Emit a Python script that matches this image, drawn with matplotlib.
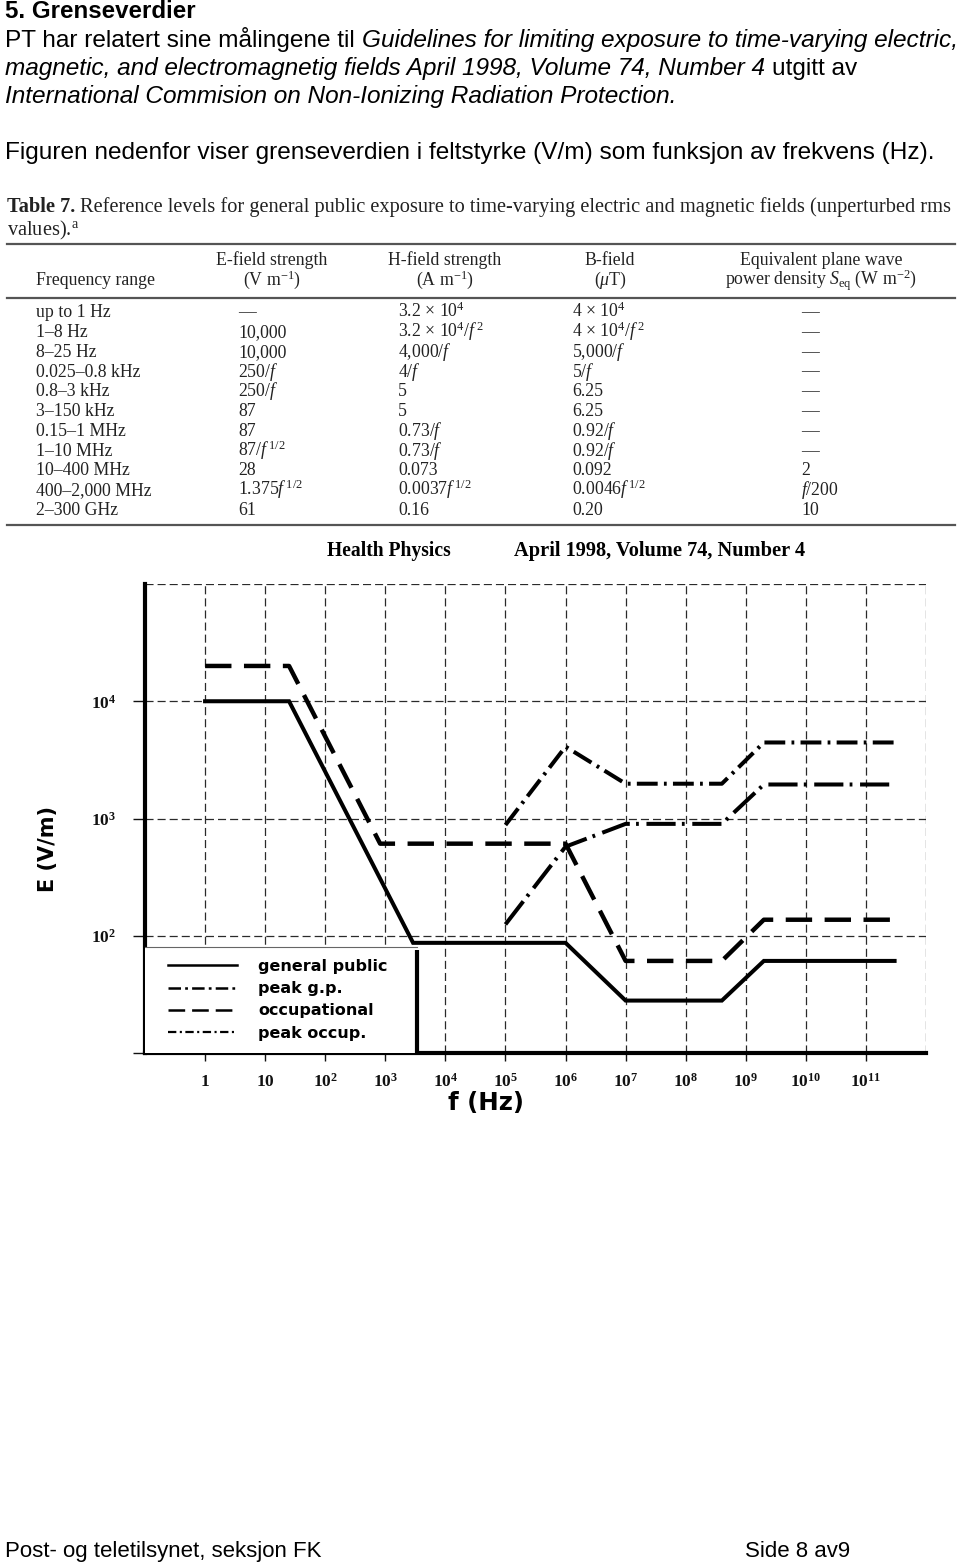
import matplotlib
matplotlib.use("Agg")
import matplotlib.pyplot as plt
from matplotlib.lines import Line2D
from matplotlib.patches import Rectangle
from matplotlib.ticker import NullLocator

plt.rcParams['mathtext.fontset'] = 'custom'
plt.rcParams['mathtext.rm'] = 'Liberation Serif'
plt.rcParams['mathtext.it'] = 'Liberation Serif:italic'
plt.rcParams['mathtext.bf'] = 'Liberation Serif:bold'
plt.rcParams['lines.scale_dashes'] = False

# ---------------- data ----------------
freq_general_public = [1, 25, 2.9e3, 1e6, 1e7, 4e8, 2e9, 3e11]
e_general_public = [1e4, 1e4, 87, 87, 28, 28, 61, 61]

freq_occupational = [1, 25, 820, 1e6, 1e7, 4e8, 2e9, 3e11]
e_occupational = [2e4, 2e4, 610, 610, 61, 61, 137, 137]

freq_peak_gp = [1e5, 1e6, 1e7, 4e8, 2e9, 3e11]
e_peak_gp = [125, 575, 900, 900, 1950, 1950]

freq_peak_occ = [1e5, 1e6, 1e7, 4e8, 2e9, 3e11]
e_peak_occ = [880, 4100, 1980, 1980, 4450, 4450]

legend_labels = ["general public", "peak g.p.", "occupational", "peak occup."]

x_tick_values = [1, 1e1, 1e2, 1e3, 1e4, 1e5, 1e6, 1e7, 1e8, 1e9, 1e10, 1e11]
x_tick_labels = [r"$\mathbf{1}$", r"$\mathbf{10}$", r"$\mathbf{10^{2}}$", r"$\mathbf{10^{3}}$",
                 r"$\mathbf{10^{4}}$", r"$\mathbf{10^{5}}$", r"$\mathbf{10^{6}}$", r"$\mathbf{10^{7}}$",
                 r"$\mathbf{10^{8}}$", r"$\mathbf{10^{9}}$", r"$\mathbf{10^{10}}$", r"$\mathbf{10^{11}}$"]
y_tick_values = [1e1, 1e2, 1e3, 1e4]
y_tick_labels = ["", r"$\mathbf{10^{2}}$", r"$\mathbf{10^{3}}$", r"$\mathbf{10^{4}}$"]

table_freq = ["up to 1 Hz", "1–8 Hz", "8–25 Hz", "0.025–0.8 kHz", "0.8–3 kHz", "3–150 kHz",
              "0.15–1 MHz", "1–10 MHz", "10–400 MHz", "400–2,000 MHz", "2–300 GHz"]
table_e = ["—", "10,000", "10,000", r"250/$f$", r"250/$f$", "87", "87", r"87/$f^{\,1/2}$",
           "28", r"1.375$f^{\,1/2}$", "61"]
table_h = [r"3.2 × 10$^4$", r"3.2 × 10$^4$/$f^{\,2}$", r"4,000/$f$", r"4/$f$", "5", "5",
           r"0.73/$f$", r"0.73/$f$", "0.073", r"0.0037$f^{\,1/2}$", "0.16"]
table_b = [r"4 × 10$^4$", r"4 × 10$^4$/$f^{\,2}$", r"5,000/$f$", r"5/$f$", "6.25", "6.25",
           r"0.92/$f$", r"0.92/$f$", "0.092", r"0.0046$f^{\,1/2}$", "0.20"]
table_s = ["—", "—", "—", "—", "—", "—", "—", "—", "2", r"$f$/200", "10"]

# ---------------- helpers ----------------
W, H = 960, 1567
fig = plt.figure(figsize=(W / 100, H / 100), dpi=100, facecolor='white')
R = fig.canvas.get_renderer()


def fx(x):
    return x / W


def fy(y):
    return 1 - y / H


def measure(s, size, **kw):
    t = fig.text(0, 0, s, fontsize=size, **kw)
    w = t.get_window_extent(R).width
    t.remove()
    return w


def fit(s, target, **kw):
    return 20 * target / measure(s, 20, **kw)


def space_w(size, **kw):
    return measure("a a", size, **kw) - measure("aa", size, **kw)


def seq(x, y, parts, size, va='baseline', **common):
    for s, st in parts:
        kw = dict(common)
        kw.update(st)
        lead = len(s) - len(s.lstrip(' '))
        trail = len(s) - len(s.rstrip(' '))
        x += lead * space_w(size, **kw)
        t = fig.text(fx(x), fy(y), s.strip(' '), fontsize=size, ha='left', va=va, **kw)
        x += t.get_window_extent(R).width
        x += trail * space_w(size, **kw)
    return x


SANS = dict(family=['Liberation Sans', 'DejaVu Sans'])
SERIF = dict(family=['Liberation Serif', 'DejaVu Serif'])
WIDE = dict(family=['DejaVu Sans'])
IT = dict(style='italic')
NORM = dict()

# ---------------- page header ----------------
hs = fit("Figuren nedenfor viser grenseverdien i feltstyrke (V/m) som funksjon av frekvens (Hz).", 928, **SANS)
ts = fit("5. Grenseverdier", 190, weight='bold', **SANS)
fig.text(fx(5), fy(18), "5. Grenseverdier", fontsize=ts, weight='bold', ha='left', va='baseline', **SANS)
seq(5, 47, [("PT har relatert sine målingene til ", NORM),
            ("Guidelines for limiting exposure to time-varying electric,", IT)], hs, **SANS)
seq(5, 75, [("magnetic, and electromagnetig fields April 1998, Volume 74, Number 4", IT),
            (" utgitt av", NORM)], hs, **SANS)
seq(5, 103, [("International Commision on Non-Ionizing Radiation Protection.", IT)], hs, **SANS)
seq(5, 159, [("Figuren nedenfor viser grenseverdien i feltstyrke (V/m) som funksjon av frekvens (Hz).", NORM)],
    hs, **SANS)

# ---------------- footer ----------------
fs = fit("Post- og teletilsynet, seksjon FK", 317, **SANS)
fig.text(fx(5), fy(1557), "Post- og teletilsynet, seksjon FK", fontsize=fs, ha='left', va='baseline', **SANS)
fig.text(fx(745), fy(1557), "Side 8 av9", fontsize=fs, ha='left', va='baseline', **SANS)

# ---------------- table ----------------
title_b = "Table 7."
title_n = "Reference levels for general public exposure to time-varying electric and magnetic fields (unperturbed rms"
w20 = measure(title_b, 20, weight='bold', **SERIF) + space_w(20, **SERIF) + measure(title_n, 20, **SERIF)
tts = 20 * 948 / w20
seq(7, 212, [(title_b, dict(weight='bold')), (" " + title_n, NORM)], tts, color='#222', **SERIF)
fig.text(fx(7), fy(235), r"values).$^{\rm a}$", fontsize=tts, ha='left', va='baseline', color='#222', **SERIF)

bs = fit("400–2,000 MHz", 116, **SERIF)
for yy in (243.5, 297.5, 525):
    fig.add_artist(Line2D([fx(7), fx(955)], [fy(yy), fy(yy)], transform=fig.transFigure,
                          color='#555', lw=1.6))

col_center = [272, 445, 610, 821]
head1 = ["E-field strength", "H-field strength", "B-field", "Equivalent plane wave"]
head2 = [r"(V m$^{-1}$)", r"(A m$^{-1}$)", r"($\mu$T)", r"power density $S_{\rm eq}$ (W m$^{-2}$)"]
for cx, a, b in zip(col_center, head1, head2):
    fig.text(fx(cx), fy(265), a, fontsize=bs, ha='center', va='baseline', color='#222', **SERIF)
    fig.text(fx(cx), fy(285), b, fontsize=bs, ha='center', va='baseline', color='#222', **SERIF)
fig.text(fx(36), fy(285), "Frequency range", fontsize=bs, ha='left', va='baseline', color='#222', **SERIF)

col_left = [36, 238, 398, 572, 801]
for i, row in enumerate(zip(table_freq, table_e, table_h, table_b, table_s)):
    yb = 317.3 + i * 19.77
    for cx, s in zip(col_left, row):
        fig.text(fx(cx), fy(yb), s, fontsize=bs, ha='left', va='baseline', color='#222', **SERIF)

# ---------------- chart ----------------
hp = fit("Health Physics", 124, weight='bold', **SERIF)
fig.text(fx(389), fy(551), "Health Physics", fontsize=hp, weight='bold', ha='center', va='center', **SERIF)
hp2 = fit("April 1998, Volume 74, Number 4", 292, weight='bold', **SERIF)
fig.text(fx(660), fy(551), "April 1998, Volume 74, Number 4", fontsize=hp2, weight='bold',
         ha='center', va='center', **SERIF)

x0, x1, y0, y1 = 145, 926, 584, 1053
ax = fig.add_axes([fx(x0), fy(y1), (x1 - x0) / W, (y1 - y0) / H])
ax.set_xscale('log')
ax.set_yscale('log')
ax.set_xlim(0.1, 1e12)
ax.set_ylim(10, 1e5)
ax.set_facecolor('none')

grid_kw = dict(color='#2a2a2a', lw=0.9, ls=(0, (5.8, 2.9)), zorder=1)
for v in x_tick_values + [1e12]:
    ax.axvline(v, **grid_kw)
for v in [1e2, 1e3, 1e4, 1e5]:
    ax.axhline(v, **grid_kw)

ax.set_xticks(x_tick_values)
ax.set_xticklabels(x_tick_labels, fontsize=12.5)
ax.set_yticks(y_tick_values)
ax.set_yticklabels(y_tick_labels, fontsize=12.5)
ax.xaxis.set_minor_locator(NullLocator())
ax.yaxis.set_minor_locator(NullLocator())
ax.tick_params(axis='x', direction='out', length=6, width=1.0, pad=8, colors='#111')
ax.tick_params(axis='y', direction='out', length=9, width=1.0, pad=12, colors='#111')

for side in ('top', 'right'):
    ax.spines[side].set_visible(False)
for side in ('left', 'bottom'):
    ax.spines[side].set_linewidth(3.0)
    ax.spines[side].set_color('black')

# legend white box
bx = (417 - x0) / (x1 - x0)
by = (y1 - 947) / (y1 - y0)
ax.add_patch(Rectangle((0, 0), bx, by, transform=ax.transAxes, facecolor='white',
                       edgecolor='none', zorder=3))
ax.plot([0, bx], [by, by], transform=ax.transAxes, color='#666', lw=0.8, zorder=4)
ax.plot([bx, bx], [0, (y1 - 950) / (y1 - y0)], transform=ax.transAxes, color='black', lw=3.0,
        zorder=4, solid_capstyle='butt')

# curves
ax.plot(freq_general_public, e_general_public, color='black', lw=2.9, zorder=5,
        label=legend_labels[0], solid_joinstyle='miter')
ax.plot(freq_peak_gp, e_peak_gp, color='black', lw=2.9, zorder=5, ls=(0, (21, 4.5, 2, 5.5)),
        label=legend_labels[1])
ax.plot(freq_occupational, e_occupational, color='black', lw=3.2, zorder=5, ls=(0, (19, 9)),
        label=legend_labels[2])
ax.plot(freq_peak_occ, e_peak_occ, color='black', lw=2.9, zorder=5, ls=(0, (15, 4.5, 2, 4.5)),
        label=legend_labels[3])

# legend
ls_ = fit("general public", 123, weight='bold', **WIDE) * 1.05
px = ls_ * 100 / 72
handles = [Line2D([], [], color='black', lw=1.8),
           Line2D([], [], color='black', lw=1.8, ls=(0, (9, 3, 2, 3))),
           Line2D([], [], color='black', lw=1.8, ls=(0, (12, 5))),
           Line2D([], [], color='black', lw=1.6, ls=(0, (6, 2.5, 1.5, 2.5)))]
leg = ax.legend(handles, legend_labels, loc='upper left',
                bbox_to_anchor=((168 - x0) / (x1 - x0), (y1 - 959) / (y1 - y0)),
                frameon=False, borderpad=0, borderaxespad=0,
                handlelength=69 / px, handletextpad=21 / px,
                labelspacing=0.45, prop=dict(weight='bold', size=ls_, family='DejaVu Sans'))
leg.set_zorder(6)

# axis labels
el = fit("E (V/m)", 86, weight='bold', **WIDE)
fig.text(fx(48), fy(849), "E (V/m)", fontsize=el, weight='bold', rotation=90,
         ha='center', va='center', **WIDE)
fl = fit("f (Hz)", 76, weight='bold', **WIDE)
fig.text(fx(486), fy(1103), "f (Hz)", fontsize=fl, weight='bold', ha='center', va='center', **WIDE)

fig.savefig("out.png", dpi=100, facecolor='white')
